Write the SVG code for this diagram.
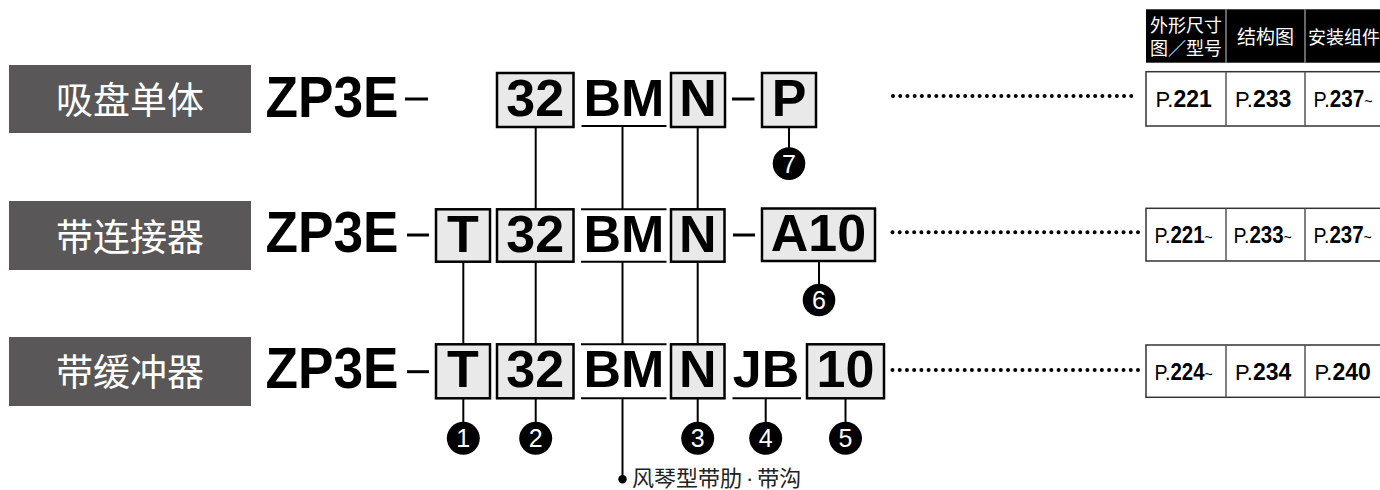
<svg xmlns="http://www.w3.org/2000/svg" width="1380" height="490" viewBox="0 0 1380 490">
<style>
.lbl{fill:#595757}
.lt{font-family:"Noto Sans CJK SC","Noto Sans",sans-serif;font-size:37px;fill:#fff;text-anchor:middle}
.zp{font-family:"Liberation Sans",Arial,sans-serif;font-weight:bold;font-size:58px;fill:#000}
.bx{fill:#e9e9e9;stroke:#000;stroke-width:2.5}
.bt{font-family:"Liberation Sans",Arial,sans-serif;font-weight:bold;font-size:52px;fill:#000;text-anchor:middle}
.dash{stroke:#000;stroke-width:3}
.rule{stroke:#000;stroke-width:2}
.con{stroke:#000;stroke-width:2;fill:none}
.num{fill:#000}
.nt{font-family:"Liberation Sans",Arial,sans-serif;font-size:25px;fill:#fff;text-anchor:middle}
.dots{stroke:#000;stroke-width:4;stroke-linecap:round;stroke-dasharray:0 7.22}
.hd{fill:#000}
.hdiv{stroke:#8a8a8a;stroke-width:1.5}
.cdiv{stroke:#555;stroke-width:1.5}
.cell{fill:#fff;stroke:#333;stroke-width:1.5}
.ht{font-family:"Noto Sans CJK SC","Noto Sans",sans-serif;font-size:18px;fill:#fff}
.pt{font-family:"Liberation Sans",Arial,sans-serif;font-size:22px;fill:#000}
.pb{font-weight:bold;font-size:23px}
.tl{font-size:16px}
.note{font-family:"Noto Sans CJK SC","Noto Sans",sans-serif;font-size:22px;fill:#222}
.md{font-family:"Liberation Sans",Arial,sans-serif}
</style>

<!-- Row labels -->
<g id="label-row1"><rect class="lbl" x="9" y="65" width="242" height="68"/><text class="lt" x="130" y="114">吸盘单体</text></g>
<g id="label-row2"><rect class="lbl" x="9" y="201" width="242" height="69"/><text class="lt" x="130" y="251">带连接器</text></g>
<g id="label-row3"><rect class="lbl" x="9" y="337" width="242" height="69"/><text class="lt" x="130" y="386">带缓冲器</text></g>

<!-- Model prefixes -->
<g id="prefix-row1"><text class="zp" x="265.5" y="116.5" textLength="133" lengthAdjust="spacingAndGlyphs">ZP3E</text><line class="dash" x1="405" y1="99" x2="428" y2="99"/></g>
<g id="prefix-row2"><text class="zp" x="265.5" y="251.7" textLength="133" lengthAdjust="spacingAndGlyphs">ZP3E</text><line class="dash" x1="407" y1="235" x2="429" y2="235"/></g>
<g id="prefix-row3"><text class="zp" x="265.5" y="388" textLength="133" lengthAdjust="spacingAndGlyphs">ZP3E</text><line class="dash" x1="407" y1="371.7" x2="429" y2="371.7"/></g>

<!-- Row 1 codes -->
<g id="r1-32"><rect class="bx" x="497" y="73" width="76.5" height="54"/><text class="bt" x="535.2" y="115.5">32</text></g>
<g id="r1-BM"><text class="bt" x="624" y="115.5">BM</text><line class="rule" x1="581.5" y1="126" x2="666.5" y2="126"/></g>
<g id="r1-N"><rect class="bx" x="671" y="73" width="54" height="54"/><text class="bt" x="698" y="115.5">N</text></g>
<g id="r1-dash"><line class="dash" x1="732" y1="99" x2="754.5" y2="99"/></g>
<g id="r1-P"><rect class="bx" x="762" y="73" width="54" height="54"/><text class="bt" x="789" y="115.5">P</text></g>

<!-- Row 2 codes -->
<g id="r2-T"><rect class="bx" x="436" y="209.3" width="54" height="52.4"/><text class="bt" x="463" y="251.5">T</text></g>
<g id="r2-32"><rect class="bx" x="497" y="209.3" width="76.5" height="52.4"/><text class="bt" x="535.2" y="251.5">32</text></g>
<g id="r2-BM"><line class="rule" x1="581" y1="209.3" x2="666.5" y2="209.3"/><text class="bt" x="624" y="251.5">BM</text><line class="rule" x1="581" y1="261.7" x2="666.5" y2="261.7"/></g>
<g id="r2-N"><rect class="bx" x="671" y="209.3" width="53.5" height="52.4"/><text class="bt" x="697.7" y="251.5">N</text></g>
<g id="r2-dash"><line class="dash" x1="733" y1="235" x2="755" y2="235"/></g>
<g id="r2-A10"><rect class="bx" x="762" y="208.5" width="113" height="52.5"/><text class="bt" x="818.5" y="251">A10</text></g>

<!-- Row 3 codes -->
<g id="r3-T"><rect class="bx" x="436" y="344.3" width="54" height="54"/><text class="bt" x="463" y="387">T</text></g>
<g id="r3-32"><rect class="bx" x="497" y="344.3" width="76.5" height="54"/><text class="bt" x="535.2" y="387">32</text></g>
<g id="r3-BM"><line class="rule" x1="581" y1="344.3" x2="666.5" y2="344.3"/><text class="bt" x="624" y="387">BM</text><line class="rule" x1="581" y1="398.3" x2="666.5" y2="398.3"/></g>
<g id="r3-N"><rect class="bx" x="671" y="344.3" width="53.5" height="54"/><text class="bt" x="697.7" y="387">N</text></g>
<g id="r3-JB"><text class="bt" x="766" y="387">JB</text><line class="rule" x1="732.5" y1="398.3" x2="801" y2="398.3"/></g>
<g id="r3-10"><rect class="bx" x="807" y="344.3" width="77" height="54"/><text class="bt" x="845.5" y="387">10</text></g>

<!-- Connectors -->
<g id="connectors">
<line class="con" x1="535.7" y1="127" x2="535.7" y2="209.3"/>
<line class="con" x1="622.5" y1="126" x2="622.5" y2="209.3"/>
<line class="con" x1="697.7" y1="127" x2="697.7" y2="209.3"/>
<line class="con" x1="789" y1="127" x2="789" y2="150"/>
<line class="con" x1="463.3" y1="261.7" x2="463.3" y2="344.3"/>
<line class="con" x1="535.7" y1="261.7" x2="535.7" y2="344.3"/>
<line class="con" x1="622.5" y1="261.7" x2="622.5" y2="344.3"/>
<line class="con" x1="697.7" y1="261.7" x2="697.7" y2="344.3"/>
<line class="con" x1="819" y1="261" x2="819" y2="286"/>
<line class="con" x1="463.3" y1="398.3" x2="463.3" y2="424"/>
<line class="con" x1="535.7" y1="398.3" x2="535.7" y2="424"/>
<line class="con" x1="622.5" y1="398.3" x2="622.5" y2="479"/>
<line class="con" x1="697.7" y1="398.3" x2="697.7" y2="424"/>
<line class="con" x1="765.7" y1="398.3" x2="765.7" y2="424"/>
<line class="con" x1="845.5" y1="398.3" x2="845.5" y2="424"/>
<line class="dots" x1="893" y1="96" x2="1138.3" y2="96"/>
<line class="dots" x1="892.5" y1="232.3" x2="1138" y2="232.3"/>
<line class="dots" x1="892.5" y1="370" x2="1138" y2="370"/>
</g>

<!-- Numbered circles -->
<g id="num-7"><circle class="num" cx="789" cy="163.6" r="16.3"/><text class="nt" x="789" y="172.6">7</text></g>
<g id="num-6"><circle class="num" cx="819" cy="300" r="16.3"/><text class="nt" x="819" y="309">6</text></g>
<g id="num-1"><circle class="num" cx="463.3" cy="438.3" r="16.5"/><text class="nt" x="463.3" y="447.3">1</text></g>
<g id="num-2"><circle class="num" cx="535.7" cy="438.3" r="16.5"/><text class="nt" x="535.7" y="447.3">2</text></g>
<g id="num-3"><circle class="num" cx="697.7" cy="438.3" r="16.5"/><text class="nt" x="697.7" y="447.3">3</text></g>
<g id="num-4"><circle class="num" cx="765.7" cy="438.3" r="16.5"/><text class="nt" x="765.7" y="447.3">4</text></g>
<g id="num-5"><circle class="num" cx="845.5" cy="438.3" r="16.5"/><text class="nt" x="845.5" y="447.3">5</text></g>

<!-- Note -->
<g id="note-bm"><circle cx="622.5" cy="479.3" r="4.2" fill="#000"/><text class="note" x="632" y="485.5">风琴型带肋<tspan class="md" dx="4">·</tspan><tspan dx="4">带沟</tspan></text></g>

<!-- Table header -->
<g id="table-header">
<rect class="hd" x="1146" y="9.3" width="240" height="53.4"/>
<line class="hdiv" x1="1226" y1="9.3" x2="1226" y2="62.7"/>
<line class="hdiv" x1="1305" y1="9.3" x2="1305" y2="62.7"/>
<text class="ht" x="1186" y="31.5" text-anchor="middle">外形尺寸</text>
<text class="ht" x="1186" y="55" text-anchor="middle">图／型号</text>
<text class="ht" x="1265.5" y="44" text-anchor="middle" style="font-size:19px">结构图</text>
<text class="ht" x="1308" y="44">安装组件</text>
</g>

<!-- Table rows -->
<g id="table-row1">
<rect class="cell" x="1146" y="71.7" width="240" height="54.3"/>
<line class="cdiv" x1="1226" y1="71.7" x2="1226" y2="126"/>
<line class="cdiv" x1="1305" y1="71.7" x2="1305" y2="126"/>
<text class="pt" x="1155.5" y="106.7">P.<tspan class="pb">221</tspan></text>
<text class="pt" x="1235" y="106.7">P.<tspan class="pb">233</tspan></text>
<text class="pt" transform="translate(1313.5,106.7) scale(0.9,1)">P.<tspan class="pb">237</tspan><tspan class="tl">~</tspan></text>
</g>
<g id="table-row2">
<rect class="cell" x="1146" y="208.3" width="240" height="52.7"/>
<line class="cdiv" x1="1226" y1="208.3" x2="1226" y2="261"/>
<line class="cdiv" x1="1305" y1="208.3" x2="1305" y2="261"/>
<text class="pt" transform="translate(1154.5,243.2) scale(0.89,1)">P.<tspan class="pb">221</tspan><tspan class="tl">~</tspan></text>
<text class="pt" transform="translate(1233.5,243.2) scale(0.89,1)">P.<tspan class="pb">233</tspan><tspan class="tl">~</tspan></text>
<text class="pt" transform="translate(1313.5,243.2) scale(0.89,1)">P.<tspan class="pb">237</tspan><tspan class="tl">~</tspan></text>
</g>
<g id="table-row3">
<rect class="cell" x="1146" y="345" width="240" height="52.3"/>
<line class="cdiv" x1="1226" y1="345" x2="1226" y2="397.3"/>
<line class="cdiv" x1="1305" y1="345" x2="1305" y2="397.3"/>
<text class="pt" transform="translate(1154.5,379.5) scale(0.89,1)">P.<tspan class="pb">224</tspan><tspan class="tl">~</tspan></text>
<text class="pt" x="1235" y="379.5">P.<tspan class="pb">234</tspan></text>
<text class="pt" x="1314.5" y="379.5">P.<tspan class="pb">240</tspan></text>
</g>
</svg>
